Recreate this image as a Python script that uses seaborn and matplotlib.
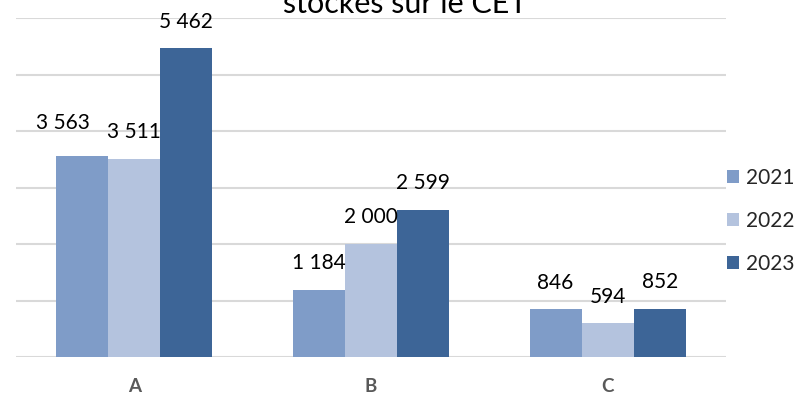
import matplotlib
matplotlib.use("Agg")
import matplotlib.pyplot as plt
import seaborn as sns
import pandas as pd

categories = ["A", "B", "C"]
years = ["2021", "2022", "2023"]
values_2021 = [3563, 1184, 846]
values_2022 = [3511, 2000, 594]
values_2023 = [5462, 2599, 852]
colors = ["#7f9cc8", "#b4c3de", "#3d6597"]
title = "stockés sur le CET"

sns.set_theme(style="white")
plt.rcParams["font.family"] = ["Lato", "DejaVu Sans"]

rows = []
for yr, vals in zip(years, [values_2021, values_2022, values_2023]):
    for c, v in zip(categories, vals):
        rows.append({"cat": c, "year": yr, "value": v})
df = pd.DataFrame(rows)

fig = plt.figure(figsize=(7.95, 3.96), dpi=100)
ax = fig.add_axes([16 / 795, 1 - 357 / 396, (726 - 16) / 795, (357 - 18) / 396])

sns.barplot(data=df, x="cat", y="value", hue="year", palette=colors,
            width=0.66, saturation=1, ax=ax, legend=True, linewidth=0)

ax.set_ylim(0, 6000)
ax.set_xlim(-0.5, 2.5)
ax.set_yticks(range(0, 6001, 1000))
ax.set_yticklabels([])
ax.yaxis.grid(True, color="#d9d9d9", linewidth=1.5)
ax.set_axisbelow(True)
for s in ax.spines.values():
    s.set_visible(False)
ax.set_xlabel("")
ax.set_ylabel("")
ax.tick_params(axis="x", length=0, pad=15, labelsize=13.5, labelcolor="#595959")
ax.tick_params(axis="y", length=0)
for t in ax.get_xticklabels():
    t.set_fontweight("bold")

for ci, cont in enumerate(ax.containers):
    labels = [f"{int(b.get_height()):,}".replace(",", " ") for b in cont]
    texts = ax.bar_label(cont, labels=labels, padding=12, fontsize=15, color="#000000")
    if ci == 0:
        # first label of the A group sits a little left and higher, as in the reference
        texts[0].set_x(texts[0].get_position()[0])
        texts[0].xyann = (-14, 16)

handles, labs = ax.get_legend_handles_labels()
ax.get_legend().remove()
fig.legend(handles, labs, loc="center left", bbox_to_anchor=(727 / 795, 1 - 221 / 396),
           frameon=False, fontsize=15, borderpad=0, borderaxespad=0,
           handlelength=0.58, handleheight=0.58, handletextpad=0.33, labelspacing=1.1)

fig.text(405 / 795, 1 - 13 / 396, title, ha="center", va="baseline", fontsize=22, color="#000000")

fig.savefig("out.png", dpi=100)
